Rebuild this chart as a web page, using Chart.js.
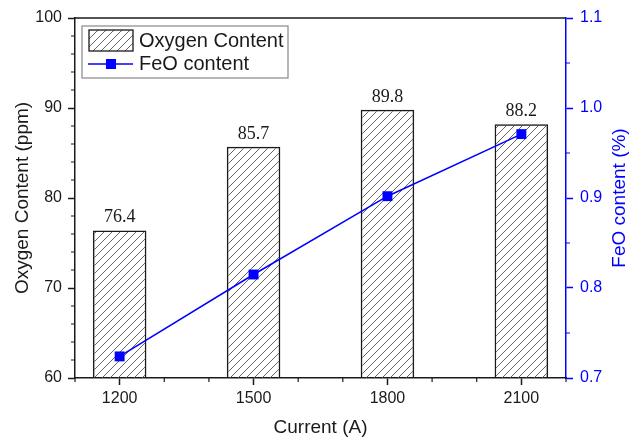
<!DOCTYPE html>
<html><head><meta charset="utf-8">
<script src="https://cdn.jsdelivr.net/npm/chart.js@4/dist/chart.umd.min.js"></script>
<style>html,body{margin:0;padding:0;background:#fff;}</style>
</head><body>
<canvas id="c" width="630" height="441" style="display:block"></canvas>
<script>
// ---- data ----
const currents = [1200, 1500, 1800, 2100];
const oxygenContent = [76.4, 85.7, 89.8, 88.2];
const feoContent = [0.724, 0.815, 0.902, 0.971];
const xLabelTicks = [1200, 1500, 1800, 2100];
const xMinorTicks = [1100, 1300, 1400, 1600, 1700, 1900, 2000, 2200];
const yLeftTicks = [60, 70, 80, 90, 100];
const yLeftMinor = [62, 64, 66, 68, 72, 74, 76, 78, 82, 84, 86, 88, 92, 94, 96, 98];
const yRightTicks = [0.7, 0.8, 0.9, 1.0, 1.1];
const yRightMinor = [0.75, 0.85, 0.95, 1.05];
const oxygenLabel = 'Oxygen Content';
const feoLabel = 'FeO content';
const xTitle = 'Current (A)';
const yLeftTitle = 'Oxygen Content (ppm)';
const yRightTitle = 'FeO content (%)';

const SANS = "'Liberation Sans', Arial, sans-serif";
const SERIF = "'Liberation Serif', 'Times New Roman', serif";
const BLUE = '#0000ff';
const INK = '#1a1a1a';
Chart.defaults.font.family = SANS;

function makeHatch() {
  const p = document.createElement('canvas');
  p.width = 8; p.height = 8;
  const c = p.getContext('2d');
  c.strokeStyle = '#555';
  c.lineWidth = 0.9;
  c.beginPath();
  c.moveTo(0, 8); c.lineTo(8, 0);
  c.moveTo(-2, 2); c.lineTo(2, -2);
  c.moveTo(6, 10); c.lineTo(10, 6);
  c.stroke();
  return c.createPattern(p, 'repeat');
}
const hatch = makeHatch();

const extras = {
  id: 'extras',
  afterDraw(chart) {
    const ctx = chart.ctx;
    const a = chart.chartArea;
    const sx = chart.scales.x, sy = chart.scales.y, sy1 = chart.scales.y1;
    ctx.save();
    // top frame line
    ctx.strokeStyle = INK; ctx.lineWidth = 1.5;
    ctx.beginPath(); ctx.moveTo(a.left, a.top); ctx.lineTo(a.right, a.top); ctx.stroke();
    // minor ticks
    ctx.lineWidth = 1.2;
    ctx.strokeStyle = INK;
    ctx.beginPath();
    xMinorTicks.forEach(v => { const px = sx.getPixelForValue(v); ctx.moveTo(px, a.bottom); ctx.lineTo(px, a.bottom + 4); });
    yLeftMinor.forEach(v => { const py = sy.getPixelForValue(v); ctx.moveTo(a.left, py); ctx.lineTo(a.left - 4, py); });
    ctx.stroke();
    ctx.strokeStyle = BLUE;
    ctx.beginPath();
    yRightMinor.forEach(v => { const py = sy1.getPixelForValue(v); ctx.moveTo(a.right, py); ctx.lineTo(a.right + 4, py); });
    ctx.stroke();
    // bar value labels
    const barIdx = chart.data.datasets.findIndex(d => d.type === 'bar');
    const meta = chart.getDatasetMeta(barIdx);
    ctx.fillStyle = INK;
    ctx.font = '18px ' + SERIF;
    ctx.textAlign = 'center';
    ctx.textBaseline = 'alphabetic';
    meta.data.forEach((el, i) => {
      ctx.fillText(oxygenContent[i].toFixed(1), el.x, el.y - 8);
    });
    // right axis title (reads bottom-to-top)
    ctx.save();
    ctx.translate(620, (a.top + a.bottom) / 2);
    ctx.rotate(-Math.PI / 2);
    ctx.fillStyle = BLUE;
    ctx.font = '19px ' + SANS;
    ctx.textAlign = 'center';
    ctx.textBaseline = 'middle';
    ctx.fillText(yRightTitle, 0, 0);
    ctx.restore();
    // legend
    ctx.fillStyle = '#fff';
    ctx.fillRect(82, 26, 206, 52);
    ctx.strokeStyle = '#888'; ctx.lineWidth = 1.2;
    ctx.strokeRect(82, 26, 206, 52);
    ctx.fillStyle = hatch;
    ctx.fillRect(89, 30, 44, 21);
    ctx.strokeStyle = INK; ctx.lineWidth = 1.3;
    ctx.strokeRect(89, 30, 44, 21);
    ctx.strokeStyle = BLUE; ctx.lineWidth = 1.5;
    ctx.beginPath(); ctx.moveTo(88, 64); ctx.lineTo(133, 64); ctx.stroke();
    ctx.fillStyle = BLUE;
    ctx.fillRect(106, 59, 10, 10);
    ctx.fillStyle = INK;
    ctx.font = '20px ' + SANS;
    ctx.textAlign = 'left';
    ctx.textBaseline = 'alphabetic';
    ctx.fillText(oxygenLabel, 139, 47);
    ctx.fillText(feoLabel, 139, 70);
    ctx.restore();
  }
};

new Chart(document.getElementById('c'), {
  type: 'bar',
  data: {
    datasets: [
      {
        type: 'line', label: feoLabel,
        data: currents.map((x, i) => ({ x: x, y: feoContent[i] })),
        xAxisID: 'x', yAxisID: 'y1',
        borderColor: BLUE, backgroundColor: BLUE, borderWidth: 1.5,
        pointStyle: 'rect', pointRadius: 7, pointBorderWidth: 0,
        pointBackgroundColor: BLUE, tension: 0, order: 0
      },
      {
        type: 'bar', label: oxygenLabel,
        data: currents.map((x, i) => ({ x: x, y: oxygenContent[i] })),
        xAxisID: 'x', yAxisID: 'y',
        backgroundColor: hatch, borderColor: INK, borderWidth: 1.5,
        categoryPercentage: 1, barPercentage: 0.4, order: 1
      }
    ]
  },
  options: {
    responsive: false, animation: false, devicePixelRatio: 1,
    layout: { padding: { top: 18, left: 0, right: 0, bottom: 0 } },
    plugins: { legend: { display: false }, tooltip: { enabled: false } },
    scales: {
      x: {
        type: 'linear', position: 'bottom', min: 1100, max: 2200, offset: false,
        afterBuildTicks: s => { s.ticks = xLabelTicks.map(v => ({ value: v })); },
        afterFit: s => { s.height = 63; },
        ticks: { callback: v => String(v), font: { size: 16 }, color: INK, padding: 4, maxRotation: 0, autoSkip: false },
        grid: { drawOnChartArea: false, offset: false, tickLength: 7, tickColor: INK, tickWidth: 1.5 },
        border: { display: true, color: INK, width: 1.5 },
        title: { display: true, text: xTitle, font: { size: 19 }, color: INK, padding: { top: 0, bottom: 2 } }
      },
      y: {
        position: 'left', min: 60, max: 100,
        afterBuildTicks: s => { s.ticks = yLeftTicks.map(v => ({ value: v })); },
        afterFit: s => { s.width = 75; },
        ticks: { callback: v => String(v), font: { size: 16 }, color: INK, padding: 6 },
        grid: { drawOnChartArea: false, tickLength: 7, tickColor: INK, tickWidth: 1.5 },
        border: { display: true, color: INK, width: 1.5 },
        title: { display: true, text: yLeftTitle, font: { size: 19 }, color: INK, padding: { top: 11, bottom: 0 } }
      },
      y1: {
        position: 'right', min: 0.7, max: 1.1,
        afterBuildTicks: s => { s.ticks = yRightTicks.map(v => ({ value: v })); },
        afterFit: s => { s.width = 64; },
        ticks: { callback: v => Number(v).toFixed(1), font: { size: 16 }, color: BLUE, padding: 7 },
        grid: { drawOnChartArea: false, tickLength: 7, tickColor: BLUE, tickWidth: 1.5 },
        border: { display: true, color: BLUE, width: 1.5 },
        title: { display: false }
      }
    }
  },
  plugins: [extras]
});
</script>
</body></html>
